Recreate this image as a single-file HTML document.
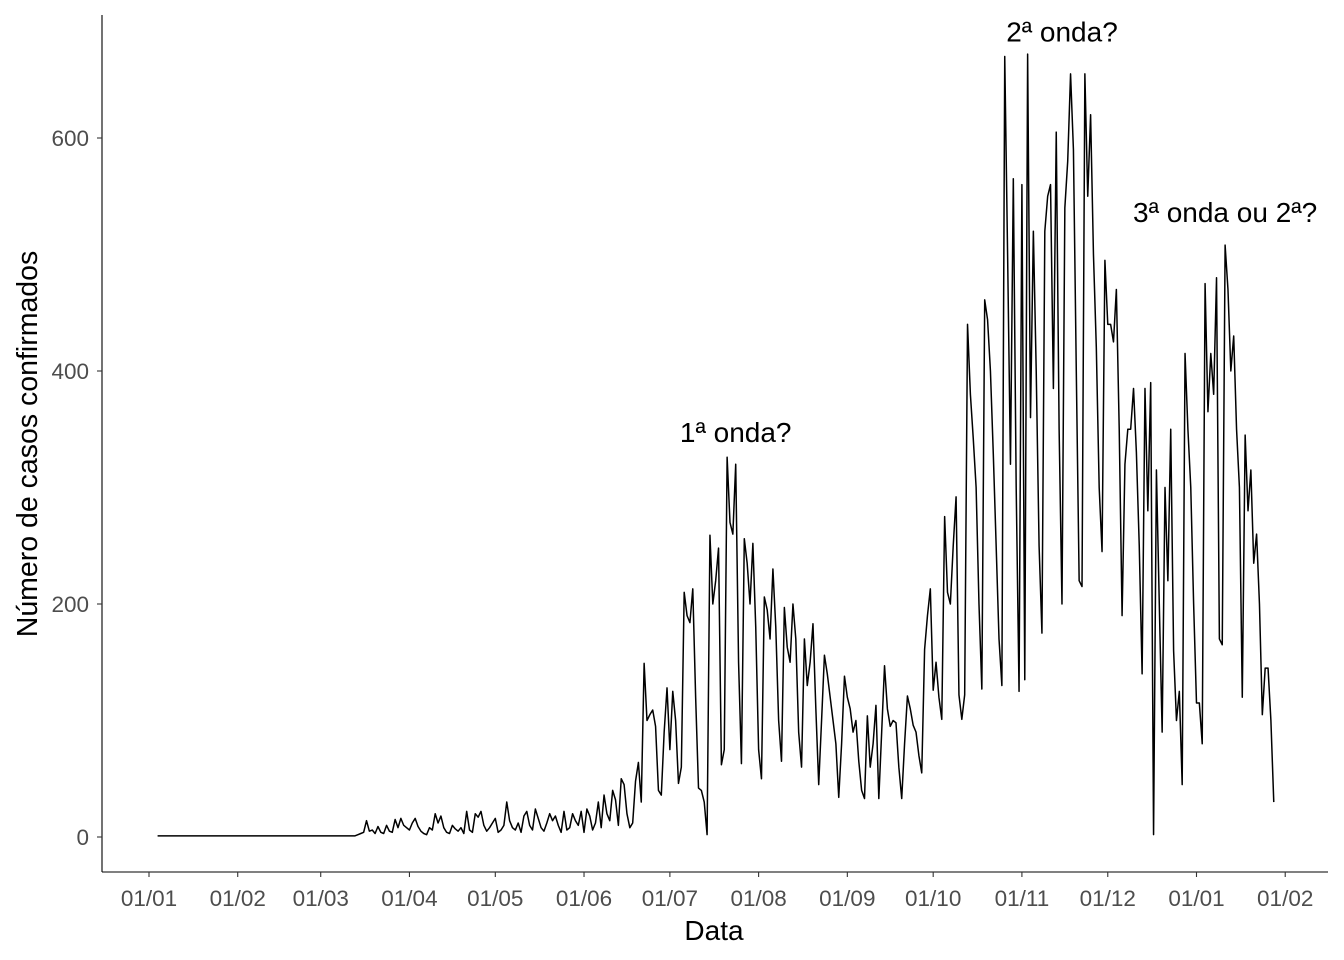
<!DOCTYPE html>
<html><head><meta charset="utf-8"><style>
html,body{margin:0;padding:0;background:#fff;}
svg{display:block;font-family:"Liberation Sans",Arial,sans-serif;}
</style></head><body>
<svg id="chart" width="1344" height="960" viewBox="0 0 1344 960">
<line x1="102" y1="15" x2="102" y2="872" stroke="#000" stroke-width="1.1"/>
<line x1="102" y1="872" x2="1328" y2="872" stroke="#000" stroke-width="1.1"/>
<g id="yticks"></g>
<g id="xticks"></g>
<path id="series" fill="none" stroke="#000" stroke-width="1.5" stroke-linejoin="round"/>
<g id="notes"></g>
<text x="714" y="940" text-anchor="middle" font-size="28" fill="#000">Data</text>
<text transform="translate(37,444) rotate(-90)" text-anchor="middle" font-size="28.5" fill="#000">Número de casos confirmados</text>
</svg>
<script>
const startDay = 3;
const cases = [
1,1,1,1,1,1,1,1,1,1,1,1,1,1,1,1,1,1,1,1,1,1,1,1,1,1,1,1,1,1,1,1,1,1,1,1,1,1,1,1,1,1,1,1,1,1,1,1,1,1,1,1,1,1,1,1,1,1,1,1,1,1,1,1,1,1,1,1,1,1,
2,3,4,14,5,6,3,9,4,3,10,5,4,15,8,16,10,8,6,
12,16,9,5,3,2,8,6,20,12,18,8,4,3,10,7,5,8,3,22,6,4,20,17,22,10,5,8,12,16,
4,6,10,30,14,8,6,12,4,18,22,10,6,24,16,8,5,12,20,14,18,10,4,22,6,8,20,14,10,22,4,
24,18,6,12,30,8,36,20,14,40,32,10,50,45,20,8,12,48,64,30,
149,100,105,109,95,40,36,90,128,75,125,100,46,60,210,190,184,213,120,42,40,30,2,259,200,220,248,62,75,326,270,260,320,150,63,256,235,200,252,180,75,50,206,195,170,230,180,100,65,197,163,150,200,170,90,60,170,130,150,183,110,45,
100,156,140,120,100,80,34,80,138,120,110,90,100,65,40,33,104,60,80,113,33,90,147,110,95,100,98,60,33,80,121,110,96,90,70,55,161,190,213,126,150,120,101,275,210,200,250,292,122,101,122,440,380,342,300,200,127,461,444,400,329,250,170,
130,670,500,320,565,300,125,560,135,672,360,520,400,250,175,520,550,560,385,605,350,200,540,580,655,590,400,220,215,655,550,620,500,420,300,245,495,440,440,425,470,350,190,320,350,
350,385,330,250,140,385,280,390,2,315,200,90,300,220,350,160,100,125,45,415,350,300,200,115,115,80,475,365,415,380,480,170,165,508,470,400,430,350,300,120,345,280,315,235,260,200,105,145,145,100,30
];
const yTicks = [0,200,400,600];
const xTickDays = [0,31,60,91,121,152,182,213,244,274,305,335,366,397];
const xTickLabels = ["01/01","01/02","01/03","01/04","01/05","01/06","01/07","01/08","01/09","01/10","01/11","01/12","01/01","01/02"];
const noteLabels = ["1ª onda?","2ª onda?","3ª onda ou 2ª?"];
const noteDays = [205,319,376];
const noteValues = [339,683,528];

const NS = "http://www.w3.org/2000/svg";
const xS = d => 149 + d * 2.862;
const yS = v => 837 - v * 1.165;

const yg = document.getElementById('yticks');
yTicks.forEach(t => {
  const l = document.createElementNS(NS,'line');
  l.setAttribute('x1',97); l.setAttribute('x2',102);
  l.setAttribute('y1',yS(t)); l.setAttribute('y2',yS(t));
  l.setAttribute('stroke','#333'); l.setAttribute('stroke-width','1.1');
  
  
  yg.appendChild(l);
  const tx = document.createElementNS(NS,'text');
  tx.setAttribute('x',89); tx.setAttribute('y',yS(t)+8);
  tx.setAttribute('text-anchor','end'); tx.setAttribute('font-size','22.5'); tx.setAttribute('fill','#4d4d4d');
  tx.textContent = t;
  
  
  yg.appendChild(tx);
});
const xg = document.getElementById('xticks');
xTickDays.forEach((d,i) => {
  const l = document.createElementNS(NS,'line');
  l.setAttribute('x1',xS(d)); l.setAttribute('x2',xS(d));
  l.setAttribute('y1',872); l.setAttribute('y2',877);
  l.setAttribute('stroke','#333'); l.setAttribute('stroke-width','1.1');
  
  
  xg.appendChild(l);
  const tx = document.createElementNS(NS,'text');
  tx.setAttribute('x',xS(d)); tx.setAttribute('y',906);
  tx.setAttribute('text-anchor','middle'); tx.setAttribute('font-size','22.5'); tx.setAttribute('fill','#4d4d4d');
  tx.textContent = xTickLabels[i];
  
  
  xg.appendChild(tx);
});
let dstr = '';
cases.forEach((v,i) => { dstr += (i ? 'L' : 'M') + xS(startDay + i).toFixed(2) + ',' + yS(v).toFixed(2); });
document.getElementById('series').setAttribute('d', dstr);
const ng = document.getElementById('notes');
noteLabels.forEach((s,i) => {
  const tx = document.createElementNS(NS,'text');
  tx.setAttribute('x',xS(noteDays[i])); tx.setAttribute('y',yS(noteValues[i]));
  tx.setAttribute('text-anchor','middle'); tx.setAttribute('font-size','28'); tx.setAttribute('fill','#000');
  tx.textContent = s;
  
  
  ng.appendChild(tx);
});
</script>
</body></html>
